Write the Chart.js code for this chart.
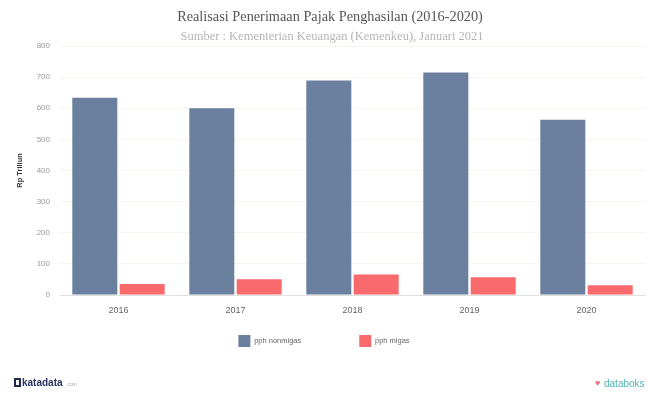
<!DOCTYPE html>
<html>
<head>
<meta charset="utf-8">
<script src="https://cdn.jsdelivr.net/npm/chart.js@4.4.1/dist/chart.umd.min.js"></script>
<style>
html,body{margin:0;padding:0;background:#fff;}
#wrap{width:648px;height:394px;position:relative;}
</style>
</head>
<body>
<div id="wrap"><canvas id="c" width="648" height="394"></canvas></div>
<script>
const categories = ["2016", "2017", "2018", "2019", "2020"];
const pphNonmigas = [634, 600, 689, 715, 563];
const pphMigas = [35, 51, 66, 57, 31];
const yTicks = [0, 100, 200, 300, 400, 500, 600, 700, 800];
const titleText = "Realisasi Penerimaan Pajak Penghasilan (2016-2020)";
const subtitleText = "Sumber : Kementerian Keuangan (Kemenkeu), Januari 2021";

const LEGEND_PAD = 58;
const LEGEND_SHIFT = 43;
const LEGEND_XSHIFT = 6;

const legendTweak = {
  id: 'legendTweak',
  afterInit(chart) {
    const lg = chart.legend;
    if (!lg) return;
    const fit = lg.fit;
    lg.fit = function () { fit.call(this); this.height = 34; };
    const draw = lg.draw;
    lg.draw = function () {
      this.top -= LEGEND_SHIFT;
      this.left -= LEGEND_XSHIFT;
      this.right -= LEGEND_XSHIFT;
      draw.call(this);
      this.top += LEGEND_SHIFT;
      this.left += LEGEND_XSHIFT;
      this.right += LEGEND_XSHIFT;
    };
  }
};

const headerFooter = {
  id: 'headerFooter',
  afterDraw(chart) {
    const ctx = chart.ctx;
    ctx.save();
    ctx.textAlign = 'center';
    ctx.textBaseline = 'middle';
    ctx.fillStyle = '#555';
    ctx.font = '14.3px "Liberation Serif", serif';
    ctx.fillText(titleText, 330, 17);
    ctx.fillStyle = '#b5b5b5';
    ctx.font = '12.5px "Liberation Serif", serif';
    ctx.fillText(subtitleText, 332, 37);
    // footer left
    ctx.textAlign = 'left';
    ctx.fillStyle = '#1f2a4d';
    ctx.fillRect(14, 378, 7, 9);
    ctx.fillStyle = '#fff';
    ctx.fillRect(16, 380, 3, 5);
    ctx.fillStyle = '#2a3560';
    ctx.font = 'bold 10px "Liberation Sans", sans-serif';
    ctx.fillText('katadata', 22, 383);
    ctx.fillStyle = '#aaa';
    ctx.font = '5px "Liberation Sans", sans-serif';
    ctx.fillText('.com', 66, 385);
    // footer right
    ctx.fillStyle = '#e8707a';
    ctx.font = '9px "Liberation Sans", sans-serif';
    ctx.fillText('\u2665', 595, 384);
    ctx.fillStyle = '#4fb3b0';
    ctx.font = '10px "Liberation Sans", sans-serif';
    ctx.fillText('databoks', 604, 384);
    ctx.restore();
  }
};

new Chart(document.getElementById('c'), {
  type: 'bar',
  data: {
    labels: categories,
    datasets: [
      { label: 'pph nonmigas', data: pphNonmigas, backgroundColor: '#6b7f9e', categoryPercentage: 0.81, barPercentage: 0.95 },
      { label: 'pph migas', data: pphMigas, backgroundColor: '#f96a6c', categoryPercentage: 0.81, barPercentage: 0.95 }
    ]
  },
  options: {
    responsive: false,
    animation: false,
    layout: { padding: { top: 46, right: 3, left: 15, bottom: 40 } },
    plugins: {
      legend: {
        position: 'bottom',
        labels: { boxWidth: 12, boxHeight: 12, padding: LEGEND_PAD, font: { size: 7.5, family: 'Liberation Sans' }, color: '#666' }
      },
      title: { display: false },
      tooltip: { enabled: false }
    },
    scales: {
      x: {
        afterFit(axis) { axis.height = 25; },
        grid: { display: false, drawTicks: false },
        border: { color: '#e0e0e0' },
        ticks: { color: '#666', font: { size: 9, family: 'Liberation Sans' }, padding: 10 }
      },
      y: {
        min: 0, max: 800,
        afterBuildTicks(axis) { axis.ticks = yTicks.map(v => ({ value: v })); },
        afterFit(axis) { axis.width = 45; },
        grid: { color: '#f7f4ee', drawTicks: false },
        border: { display: false },
        ticks: { color: '#999', font: { size: 8, family: 'Liberation Sans' }, padding: 10 },
        title: { display: true, text: 'Rp Triliun', color: '#333', padding: { top: 0, bottom: 0 }, font: { size: 7.5, weight: 'bold', family: 'Liberation Sans' } }
      }
    }
  },
  plugins: [legendTweak, headerFooter]
});
</script>
</body>
</html>
